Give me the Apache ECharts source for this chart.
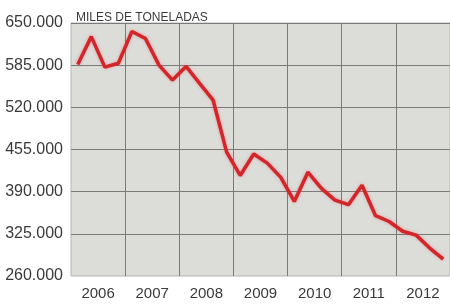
<!DOCTYPE html>
<html>
<head>
<meta charset="utf-8">
<script src="https://cdn.jsdelivr.net/npm/echarts@6/dist/echarts.min.js"></script>
<style>
  html, body { margin: 0; padding: 0; background: #fff; }
  #chart { width: 450px; height: 307px; }
</style>
</head>
<body>
<div id="chart"></div>
<script>
// años (etiquetas del eje x) y trimestres
var years = ['2006', '2007', '2008', '2009', '2010', '2011', '2012'];
var quarters = [];
years.forEach(function (y) {
    ['T1', 'T2', 'T3', 'T4'].forEach(function (q) { quarters.push(y + ' ' + q); });
});

// miles de toneladas, un valor por trimestre
var tons = [
    586, 629, 582, 588,
    637, 626, 585, 562,
    583, 557, 531, 451,
    415, 448, 434, 412,
    375, 420, 395, 377,
    370, 400, 353, 344,
    329, 323, 303, 286
];

// marcas del eje y
var yMin = 260, yMax = 650, yStep = 65;

var chart = echarts.init(document.getElementById('chart'));
var option = {
    animation: false,
    textStyle: { fontFamily: 'Liberation Sans, Arial, sans-serif' },
    title: {
        text: 'MILES DE TONELADAS',
        left: 71,
        top: 7,
        textStyle: { fontSize: 12, fontWeight: 'normal', color: '#3a3a3a' }
    },
    grid: {
        left: 71, right: -3, top: 23, bottom: 31,
        show: true,
        backgroundColor: '#dcdcd9',
        borderColor: '#b4b4b0',
        borderWidth: 1
    },
    xAxis: [
        {
            type: 'category',
            data: years,
            boundaryGap: true,
            axisLine: { show: false },
            axisTick: { show: false },
            axisLabel: { fontSize: 15, color: '#3a3a3a', margin: 10 },
            splitLine: { show: true, showMinLine: false, lineStyle: { color: '#7a7a78', width: 1 } }
        },
        {
            type: 'category',
            data: quarters,
            boundaryGap: true,
            show: false
        }
    ],
    yAxis: {
        type: 'value',
        min: yMin,
        max: yMax,
        interval: yStep,
        axisLine: { show: false },
        axisTick: { show: false },
        axisLabel: {
            fontSize: 16,
            color: '#3a3a3a',
            margin: 8,
            formatter: function (v) { return v + '.000'; }
        },
        splitLine: { showMinLine: false, lineStyle: { color: '#7a7a78', width: 1 } }
    },
    series: [
        {
            type: 'line',
            xAxisIndex: 1,
            data: tons,
            symbol: 'none',
            lineStyle: {
                color: '#d2262b',
                width: 3.5,
                shadowColor: 'rgba(230,80,80,0.5)',
                shadowBlur: 3
            }
        }
    ]
};
chart.setOption(option);
</script>
</body>
</html>
